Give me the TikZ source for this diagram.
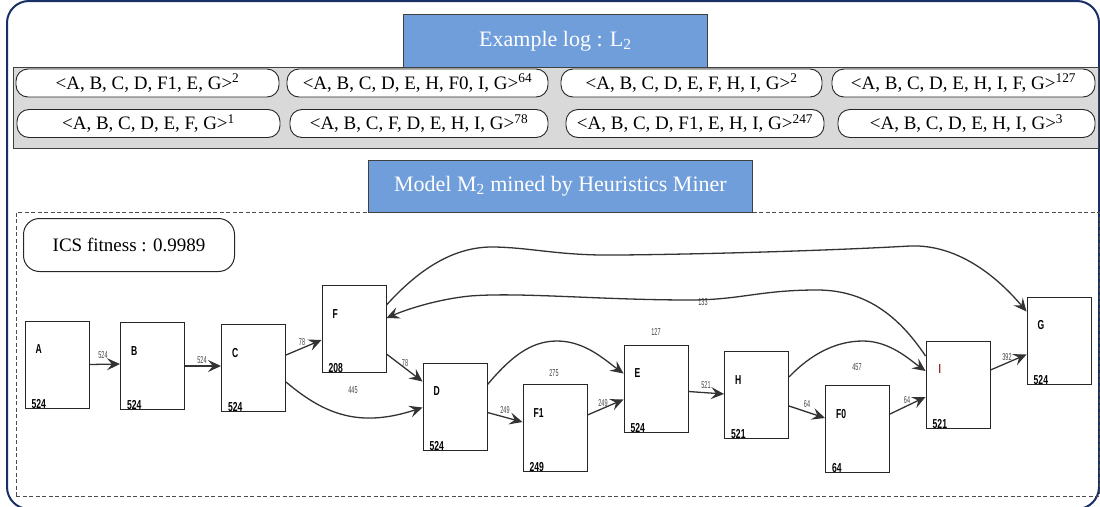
\documentclass[tikz,border=0pt]{standalone}
\usepackage{fontspec}
\usepackage{graphicx}
\setmainfont{Liberation Serif}
\newfontfamily\labelsans{Liberation Sans}
\usetikzlibrary{arrows.meta,calc}

\definecolor{framenavy}{RGB}{24,48,102}
\definecolor{titleblue}{RGB}{112,158,219}
\definecolor{panelgray}{RGB}{217,217,217}
\definecolor{actred}{RGB}{140,30,30}

% narrow bold numbers inside the activity boxes and on the arcs
\newcommand{\narrowtxt}[1]{\scalebox{0.66}[1]{#1}}
\newcommand{\arctxt}[1]{\scalebox{0.55}[1]{#1}}

\tikzset{
  outerframe/.style={draw=framenavy, line width=2pt, rounded corners=22pt},
  titlebox/.style={draw=black!75, line width=0.8pt, fill=titleblue, text=white,
    font=\fontsize{22}{26}\selectfont, anchor=north west, inner sep=0pt},
  graypanel/.style={draw=black!75, line width=1pt, fill=panelgray, anchor=north west, inner sep=0pt},
  trace/.style={draw=black!85, line width=0.9pt, fill=white, rounded corners=12pt,
    minimum height=28pt, inner sep=0pt, font=\fontsize{19}{22}\selectfont},
  modelzone/.style={draw=black!70, line width=0.9pt, dash pattern=on 4pt off 2.5pt,
    anchor=north west, inner sep=0pt},
  fitbox/.style={draw=black!85, line width=1pt, rounded corners=16pt, anchor=north west,
    inner sep=0pt, minimum width=211pt, minimum height=53pt, font=\fontsize{19}{22}\selectfont},
  act/.style={draw=black!85, line width=1pt, fill=white, minimum width=64pt,
    minimum height=87pt, inner sep=0pt},
  actname/.style={anchor=west, inner sep=0pt, font=\labelsans\bfseries\fontsize{13}{13}\selectfont},
  actcount/.style={anchor=south west, inner sep=0pt, font=\labelsans\bfseries\fontsize{13}{13}\selectfont},
  flow/.style={draw=black!80, line width=1.3pt, -{Stealth[length=13pt,width=12pt,inset=5pt]}},
  arclabel/.style={inner sep=0pt, text=black!75, font=\labelsans\fontsize{10}{10}\selectfont},
}

\begin{document}
\begin{tikzpicture}[x=1pt,y=-1pt]
\useasboundingbox (0,0) rectangle (1100,506);

% outer frame
\draw[outerframe] (7,1) rectangle (1099,509);

% ---------------- event log ----------------
\node[graypanel, minimum width=1085pt, minimum height=81pt] (logpanel) at (13,66.5) {};
\node[titlebox, minimum width=304pt, minimum height=53pt] (logtitle) at (403,14)
  {Example log : L\textsubscript{2}};

\node[trace, minimum width=263pt] (t1) at (147.5,83)  {<A, B, C, D, F1, E, G>\textsuperscript{2}};
\node[trace, minimum width=261pt] (t2) at (417.5,83)  {<A, B, C, D, E, H, F0, I, G>\textsuperscript{64}};
\node[trace, minimum width=261pt] (t3) at (691.5,83)  {<A, B, C, D, E, F, H, I, G>\textsuperscript{2}};
\node[trace, minimum width=263pt] (t4) at (963.5,83)  {<A, B, C, D, E, H, I, F, G>\textsuperscript{127}};
\node[trace, minimum width=263pt] (t5) at (148.5,123.5) {<A, B, C, D, E, F, G>\textsuperscript{1}};
\node[trace, minimum width=258pt] (t6) at (419,123.5)   {<A, B, C, F, D, E, H, I, G>\textsuperscript{78}};
\node[trace, minimum width=258pt] (t7) at (695,123.5)   {<A, B, C, D, F1, E, H, I, G>\textsuperscript{247}};
\node[trace, minimum width=257pt] (t8) at (966.5,123.5) {<A, B, C, D, E, H, I, G>\textsuperscript{3}};

% ---------------- mined model ----------------
\node[modelzone, minimum width=1083pt, minimum height=284pt] (modelarea) at (16,212) {};
\node[titlebox, minimum width=384pt, minimum height=52pt] (modeltitle) at (368,160)
  {Model M\textsubscript{2} mined by Heuristics Miner};
\node[fitbox] (fitness) at (23,218) {ICS fitness : 0.9989};

% activities
\node[act] (A)  at (57,364.5)  {};
\node[act] (B)  at (152.5,366) {};
\node[act] (C)  at (253.5,368) {};
\node[act] (F)  at (354,329)   {};
\node[act] (D)  at (455,406.5) {};
\node[act] (F1) at (555,428)   {};
\node[act] (E)  at (656,388.5) {};
\node[act] (H)  at (756.5,395) {};
\node[act] (F0) at (857.5,429) {};
\node[act] (I)  at (958,385)   {};
\node[act] (G)  at (1059,340.5){};

% activity names and frequencies
\foreach \n/\t in {A/A, B/B, C/C, F/F, D/D, F1/F1, E/E, H/H, F0/F0, G/G}{
  \node[actname] (\n-name) at ($(\n.north west)+(11,29)$) {\narrowtxt{\t}};
}
\node[actname, text=actred] (I-name) at ($(I.north west)+(13,28)$) {\narrowtxt{I}};
\foreach \n/\c in {A/524, B/524, C/524, F/208, D/524, F1/249, E/524, H/521, F0/64, I/521, G/524}{
  \node[actcount] (\n-count) at ($(\n.south west)+(7,0)$) {\narrowtxt{\c}};
}

% arcs
\draw[flow] ($(A.north east)+(0,44)$) -- ($(B.north west)+(0,42)$);
\draw[flow] ($(B.north east)+(0,44)$) -- ($(C.north west)+(0,42)$);
\draw[flow] ($(C.north east)+(0,31)$) -- ($(F.north west)+(0,55)$);
\draw[flow] ($(C.north east)+(0,58)$) .. controls (325,415) and (360,428) .. ($(D.north west)+(0,45)$);
\draw[flow] ($(F.north east)+(0,69)$) -- ($(D.north west)+(0,19)$);
\draw[flow] ($(D.north east)+(0,50)$) -- ($(F1.north west)+(0,38)$);
\draw[flow] ($(D.north east)+(0,22)$) .. controls (510,358) and (530,341) .. (557,341)
            .. controls (585,341) and (605,360) .. ($(E.north west)+(0,29)$);
\draw[flow] ($(F1.north east)+(0,31)$) -- ($(E.north west)+(0,55)$);
\draw[flow] ($(E.north east)+(0,47)$) -- ($(H.north west)+(0,43)$);
\draw[flow] ($(H.north east)+(0,55)$) -- ($(F0.north west)+(0,33)$);
\draw[flow] ($(H.north east)+(0,26)$) .. controls (810,355) and (835,341) .. (863,341)
            .. controls (890,341) and (910,360) .. ($(I.north west)+(0,30)$);
\draw[flow] ($(F0.north east)+(0,29)$) -- ($(I.north west)+(0,56)$);
\draw[flow] ($(I.north east)+(0,29)$) -- ($(G.north west)+(0,58)$);
\draw[flow] ($(I.north west)+(0,15)$) .. controls (895,310) and (860,290) .. (817,290)
            .. controls (760,290) and (740,300) .. (690,300)
            .. controls (600,300) and (520,292) .. (470,296)
            .. controls (440,299) and (410,308) .. ($(F.north east)+(0,33)$);
\draw[flow] ($(F.north east)+(0,20)$) .. controls (420,268) and (455,246) .. (495,247)
            .. controls (535,248) and (560,256) .. (620,255)
            .. controls (720,254) and (840,250) .. (910,246)
            .. controls (960,244) and (1000,280) .. ($(G.north west)+(0,15)$);

% arc frequencies
\node[arclabel] (lab-AB)  at (103,355) {\arctxt{524}};
\node[arclabel] (lab-BC)  at (202,360) {\arctxt{524}};
\node[arclabel] (lab-CF)  at (302,342) {\arctxt{78}};
\node[arclabel] (lab-CD)  at (353,390) {\arctxt{445}};
\node[arclabel] (lab-FD)  at (405,363) {\arctxt{78}};
\node[arclabel] (lab-DF1) at (505,410) {\arctxt{249}};
\node[arclabel] (lab-DE)  at (554,373) {\arctxt{275}};
\node[arclabel] (lab-FE)  at (603,403) {\arctxt{249}};
\node[arclabel] (lab-top) at (656,332) {\arctxt{127}};
\node[arclabel] (lab-IF)  at (703,302) {\arctxt{133}};
\node[arclabel] (lab-EH)  at (706,385) {\arctxt{521}};
\node[arclabel] (lab-HF0) at (807,404) {\arctxt{64}};
\node[arclabel] (lab-HI)  at (857,367) {\arctxt{457}};
\node[arclabel] (lab-F0I) at (907,400) {\arctxt{64}};
\node[arclabel] (lab-IG)  at (1007,357) {\arctxt{392}};
\end{tikzpicture}
\end{document}
